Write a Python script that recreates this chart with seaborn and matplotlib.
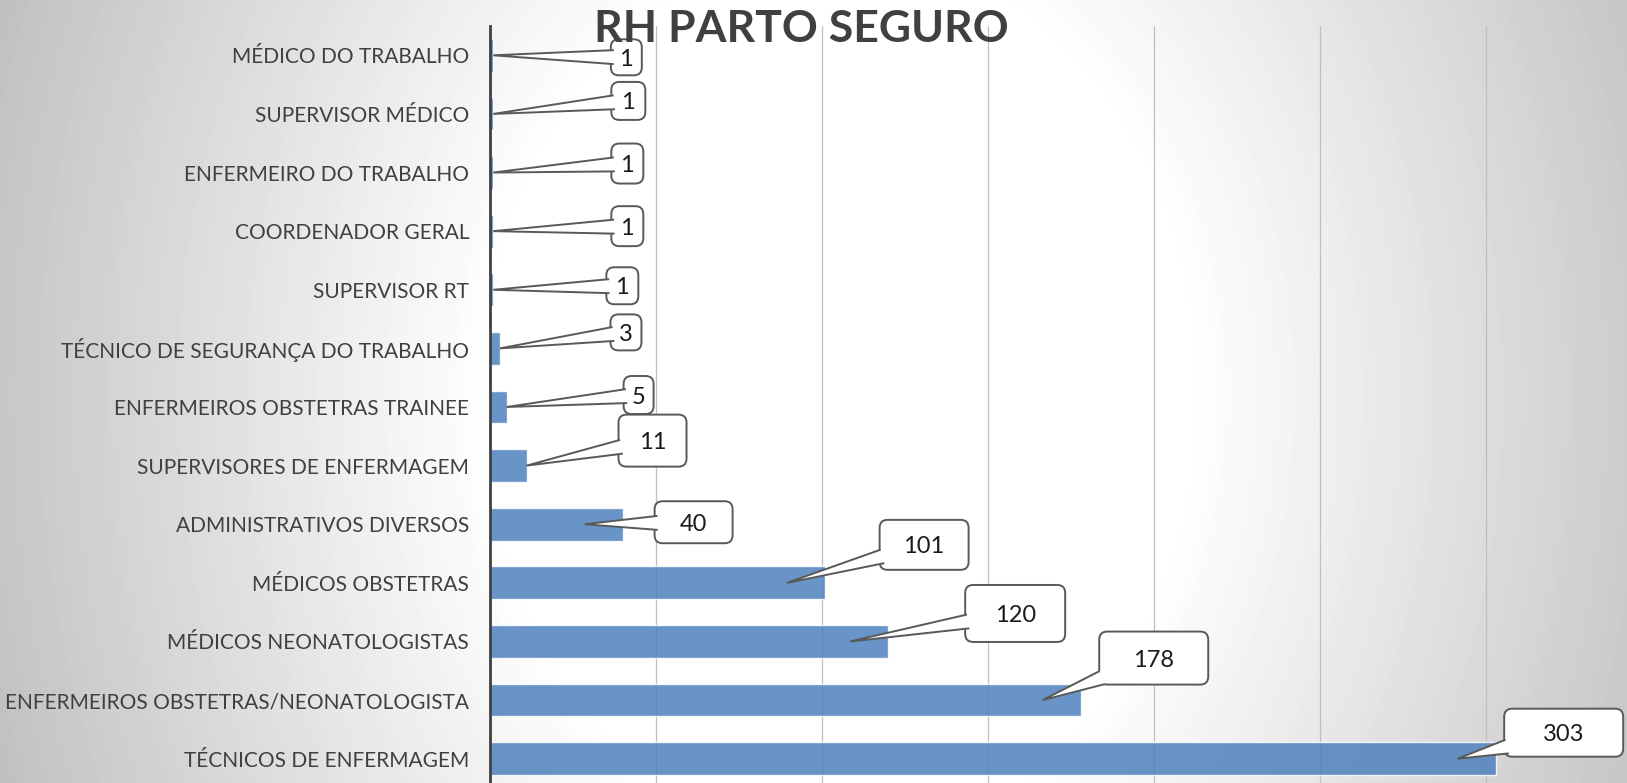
import numpy as np
import pandas as pd
import matplotlib
matplotlib.use("Agg")
import matplotlib.pyplot as plt
import seaborn as sns
from matplotlib.patches import FancyBboxPatch, Polygon
from matplotlib.transforms import IdentityTransform

# Dados
cargos = [
    "MÉDICO DO TRABALHO",
    "SUPERVISOR MÉDICO",
    "ENFERMEIRO DO TRABALHO",
    "COORDENADOR GERAL",
    "SUPERVISOR RT",
    "TÉCNICO DE SEGURANÇA DO TRABALHO",
    "ENFERMEIROS OBSTETRAS TRAINEE",
    "SUPERVISORES DE ENFERMAGEM",
    "ADMINISTRATIVOS DIVERSOS",
    "MÉDICOS OBSTETRAS",
    "MÉDICOS NEONATOLOGISTAS",
    "ENFERMEIROS OBSTETRAS/NEONATOLOGISTA",
    "TÉCNICOS DE ENFERMAGEM",
]
totais = [1, 1, 1, 1, 1, 3, 5, 11, 40, 101, 120, 178, 303]
grid_ticks = [50, 100, 150, 200, 250, 300]

# Layout dos balões (deslocamento da ponta em px, tamanho da caixa em px)
callout_offset = [(133, 2), (135, -13), (134, -9), (134, -5), (129, -4),
                  (126, -16), (132, -12), (126, -25), (109, -2), (137, -38),
                  (165, -28), (111, -42), (106, -26)]
callout_size = [(31, 36), (34, 38), (32, 40), (32, 40), (32, 37),
                (31, 36), (30, 38), (68, 52), (78, 42), (89, 50),
                (100, 57), (109, 53), (119, 48)]

df = pd.DataFrame({"cargo": cargos, "total": totais})

sns.set_theme(style="white")
plt.rcParams["font.family"] = ["Lato", "DejaVu Sans"]

W, H = 1627, 783
fig = plt.figure(figsize=(W / 100, H / 100), dpi=100)
fig.patch.set_facecolor("white")

# fundo em gradiente radial
bg = fig.add_axes([0, 0, 1, 1], zorder=-1)
yy, xx = np.mgrid[0:H, 0:W]
d = np.sqrt((xx - 840) ** 2 + ((yy - 395) * 0.8) ** 2)
grad = np.clip(255 - 62 * (d - 350) / 540, 192, 255)
bg.imshow(grad, cmap="gray", vmin=0, vmax=255, aspect="auto",
          extent=(0, 1, 0, 1), interpolation="bilinear")
bg.set_axis_off()

ax = fig.add_axes([490 / W, -5 / H, 1 - 490 / W, (783 - 26 + 5) / H])
ax.set_facecolor("none")

sns.barplot(data=df, x="total", y="cargo", orient="h", color="#4f81bd",
            alpha=0.85, saturation=1, width=0.56, ax=ax)

ax.set_xlim(0, 342.5)
ax.set_ylim(len(cargos) - 0.5, -0.5)
ax.set_xticks(grid_ticks)
ax.set_xticklabels([])
ax.grid(axis="x", color="#bfbfbf", lw=0.9)
ax.set_axisbelow(True)
for s in ["top", "right", "bottom"]:
    ax.spines[s].set_visible(False)
ax.spines["left"].set_color("#404040")
ax.spines["left"].set_linewidth(2)
ax.tick_params(axis="y", length=0, pad=15, labelsize=15, labelcolor="#404040")
ax.tick_params(axis="x", length=0)
ax.set_xlabel("")
ax.set_ylabel("")

# balões de rótulo
edge = "#595959"
for i, val in enumerate(totais):
    tip_val = val if val < 20 else val - 11.5
    tx, ty = ax.transData.transform((tip_val, i))
    dx, dy = callout_offset[i]
    cx, cy = tx + dx, ty - dy
    w, h = callout_size[i]

    box = FancyBboxPatch((cx - w / 2, cy - h / 2), w, h,
                         boxstyle="round,pad=0,rounding_size=8",
                         transform=IdentityTransform(), fc="white", ec=edge,
                         lw=1.4, zorder=5)
    fig.add_artist(box)

    ux, uy = tx - cx, ty - cy
    n = np.hypot(ux, uy)
    ux, uy = ux / n, uy / n
    t = min((w / 2) / max(abs(ux), 1e-9), (h / 2) / max(abs(uy), 1e-9)) - 3
    bx, by = cx + ux * t, cy + uy * t
    px, py = -uy, ux
    half = 7
    wedge = Polygon([(bx + px * half, by + py * half), (tx, ty),
                     (bx - px * half, by - py * half)], closed=False,
                    transform=IdentityTransform(), fc="white", ec=edge,
                    lw=1.4, zorder=6)
    fig.add_artist(wedge)

    fig.text(cx, cy, str(val), transform=IdentityTransform(), ha="center",
             va="center_baseline", fontsize=17, color="#1a1a1a", zorder=7)

fig.text(801 / W, 1 - 29 / H, "RH PARTO SEGURO", ha="center", va="center",
         fontsize=32, fontweight="bold", color="#404040", zorder=10)

fig.savefig("out.png", dpi=100)
